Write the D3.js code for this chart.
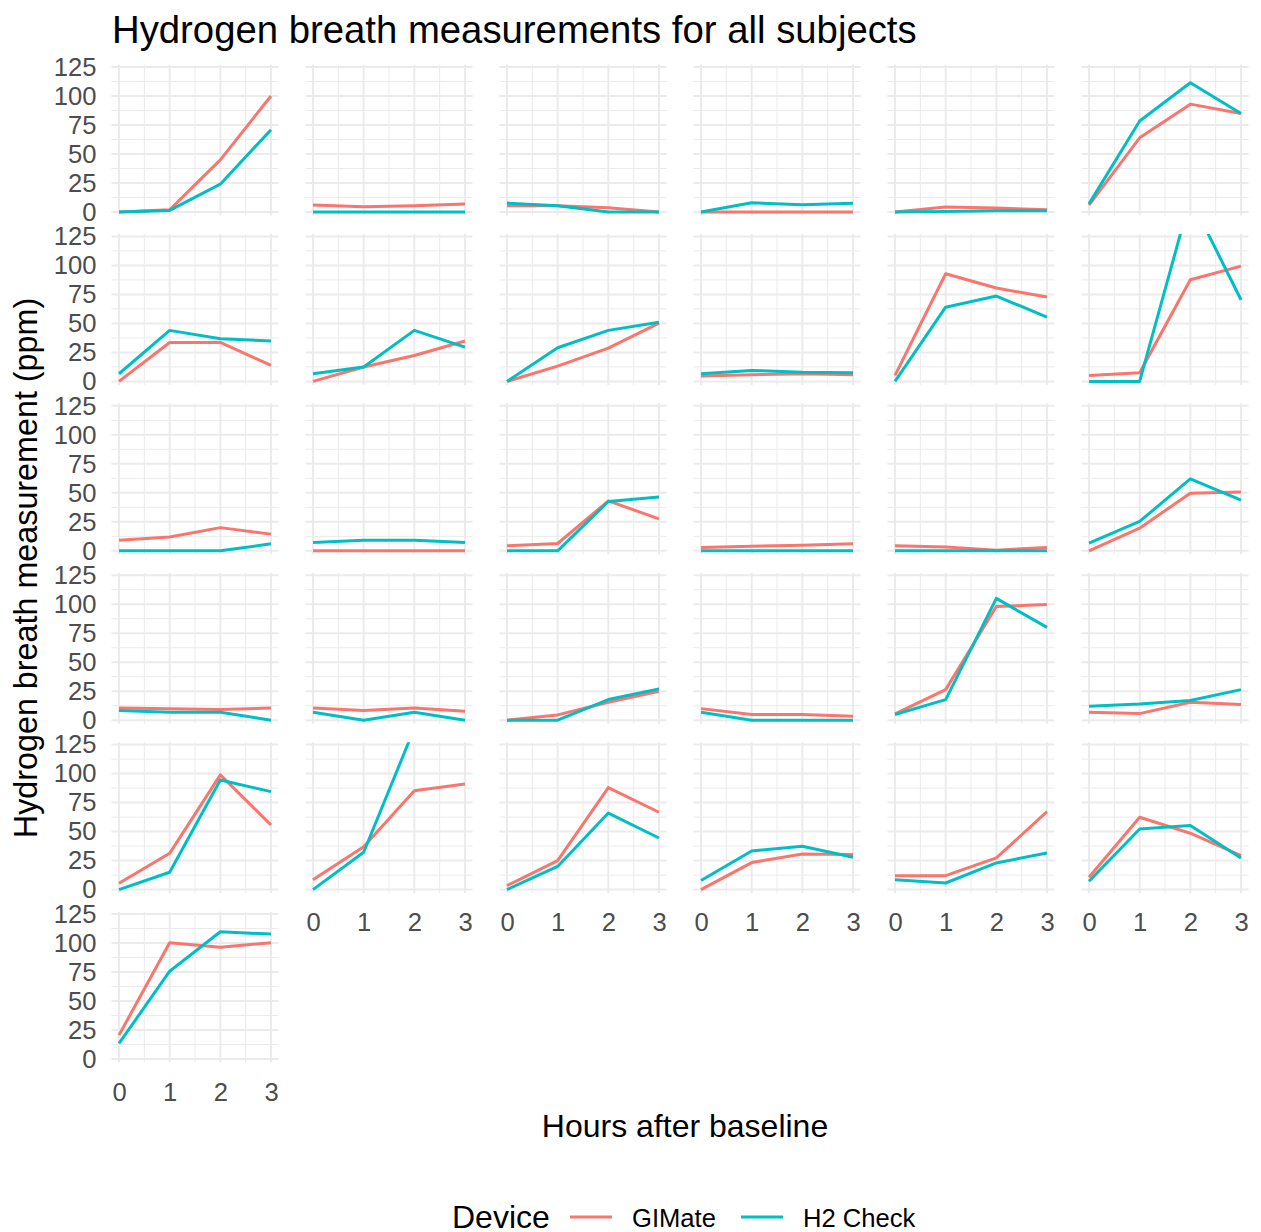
<!DOCTYPE html>
<html>
<head>
<meta charset="utf-8">
<script src="https://cdn.jsdelivr.net/npm/d3@7"></script>
<style>
  body { margin: 0; background: #fff; }
  text { font-family: "Liberation Sans", Arial, Helvetica, sans-serif; }
</style>
</head>
<body>
<svg id="chart" width="1261" height="1232"></svg>
<script>
const svg = d3.select('#chart')

// data: one array per subject, values at hours 0..3
const hours = [0, 1, 2, 3]
const devices = ['GIMate', 'H2 Check']
const gimate = [
  [0, 2, 45, 100], [6, 4.5, 5.5, 7], [5.5, 5.5, 3.7, 0], [0, 0, 0, 0], [0, 4.4, 3.5, 2], [6, 64, 93, 85],
  [0, 33.6, 33.6, 13.8], [0, 12.4, 22.4, 34.8], [0, 13.2, 28.7, 50.3], [4.6, 5.7, 6.6, 5.7], [5.2, 92.8, 80.5, 72.7], [5, 7.5, 87.6, 99.4],
  [9.2, 12, 20, 14.4], [0, 0, 0, 0], [4.3, 6.3, 43, 27.6], [2.9, 4, 4.9, 6], [4.3, 3.2, 0.6, 2.9], [0, 19.5, 49.7, 50.6],
  [10.6, 9.8, 9.2, 10.6], [10.6, 8.3, 10.6, 7.8], [0, 4.6, 15.5, 25], [10, 4.9, 4.9, 3.4], [5.5, 26.4, 98, 99.7], [6.9, 5.7, 15.5, 13.5],
  [5.5, 31.3, 98.9, 55.7], [8.6, 37, 85.3, 91], [3.4, 25, 88, 66.7], [0, 23.3, 30.7, 30.2], [12, 12, 27.3, 67.2], [10.6, 62.4, 48.6, 29.3],
  [20.6, 100.3, 96.3, 100.3]
]
const h2check = [
  [0, 1.4, 24, 71], [0, 0, 0, 0], [7.7, 5.5, 0, 0], [0, 8, 6.2, 7.5], [0, 0.5, 1, 1], [7, 78.5, 111.5, 85],
  [6.6, 44, 36.8, 34.8], [6.6, 12.4, 44, 29.6], [0, 29, 44, 51], [6.6, 9.5, 8, 7.5], [0, 64, 73.6, 55.5], [0, 0, 158, 70.4],
  [0, 0, 0, 6], [7.2, 9.2, 9.2, 7.2], [0, 0, 42.5, 46.3], [0, 0, 0, 0], [0, 0, 0, 0], [6.6, 25.3, 62, 43.7],
  [8.3, 6.9, 6.9, 0], [6.9, 0, 6.9, 0], [0, 0, 17.8, 27], [6.9, 0, 0, 0], [4.9, 17.8, 105, 80], [12, 14, 17, 26.4],
  [0, 15, 94.5, 84.5], [0, 32.2, 139, null], [0, 20, 66, 44.5], [7.8, 33.3, 37.4, 27.9], [8.6, 5.7, 23, 31.6], [7.2, 52.3, 55.2, 27.3],
  [13.4, 75.7, 109.7, 107.7]
]
const yTicks = [0, 25, 50, 75, 100, 125]
const yMinor = [12.5, 37.5, 62.5, 87.5, 112.5]
const xTicks = [0, 1, 2, 3]
const xMinor = [0.5, 1.5, 2.5]

const colors = ['#F8766D', '#00BFC4']
const gridColor = '#ebebeb'
const tickColor = '#4d4d4d'

// facet layout
const nCol = 6
const panelLeft = 111.4
const panelTop = 64.7
const colStep = 194
const rowStep = 169.4
const pw = 167.2
const ph = 150.8

const x = d3.scaleLinear().domain([-0.15, 3.15]).range([0, pw])
const y = d3.scaleLinear().domain([-3, 127]).range([ph, 0])

const line = d3.line()
  .defined(d => d[1] != null)
  .x(d => x(d[0]))
  .y(d => y(d[1]))

const nPanels = gimate.length
const defs = svg.append('defs')
defs.append('clipPath').attr('id', 'clip')
  .append('rect').attr('width', pw).attr('height', ph)

for (let i = 0; i < nPanels; i++) {
  const col = i % nCol
  const row = Math.floor(i / nCol)
  const g = svg.append('g')
    .attr('transform', `translate(${panelLeft + col * colStep}, ${panelTop + row * rowStep})`)

  // grid
  g.selectAll('line.hmin').data(yMinor).enter().append('line')
    .attr('x1', 0).attr('x2', pw).attr('y1', d => y(d)).attr('y2', d => y(d))
    .attr('stroke', gridColor).attr('stroke-width', 1)
  g.selectAll('line.vmin').data(xMinor).enter().append('line')
    .attr('y1', 0).attr('y2', ph).attr('x1', d => x(d)).attr('x2', d => x(d))
    .attr('stroke', gridColor).attr('stroke-width', 1)
  g.selectAll('line.hmaj').data(yTicks).enter().append('line')
    .attr('x1', 0).attr('x2', pw).attr('y1', d => y(d)).attr('y2', d => y(d))
    .attr('stroke', gridColor).attr('stroke-width', 2)
  g.selectAll('line.vmaj').data(xTicks).enter().append('line')
    .attr('y1', 0).attr('y2', ph).attr('x1', d => x(d)).attr('x2', d => x(d))
    .attr('stroke', gridColor).attr('stroke-width', 2)

  // lines
  const series = [gimate[i], h2check[i]]
  const lines = g.append('g').attr('clip-path', 'url(#clip)')
  series.forEach((vals, k) => {
    lines.append('path')
      .datum(hours.map((h, j) => [h, vals[j]]))
      .attr('d', line)
      .attr('fill', 'none')
      .attr('stroke', colors[k])
      .attr('stroke-width', 3)
      .attr('stroke-linejoin', 'round')
  })

  // y axis on first column
  if (col === 0) {
    const ya = g.append('g')
      .call(d3.axisLeft(y).tickValues(yTicks).tickSize(0).tickPadding(15))
    ya.select('.domain').remove()
    ya.selectAll('text').attr('fill', tickColor).style('font-size', '25.6px')
      .style('font-family', '"Liberation Sans", Arial, sans-serif')
  }
  // x axis where no panel sits below
  if (i + nCol >= nPanels) {
    const xa = g.append('g')
      .attr('transform', `translate(0, ${ph})`)
      .call(d3.axisBottom(x).tickValues(xTicks).tickFormat(d3.format('d')).tickSize(0).tickPadding(20))
    xa.select('.domain').remove()
    xa.selectAll('text').attr('fill', tickColor).style('font-size', '25.6px')
      .style('font-family', '"Liberation Sans", Arial, sans-serif')
  }
}

// titles
svg.append('text')
  .attr('x', 112).attr('y', 43)
  .style('font-size', '38.3px')
  .text('Hydrogen breath measurements for all subjects')

svg.append('text')
  .attr('transform', 'translate(37, 568) rotate(-90)')
  .attr('text-anchor', 'middle')
  .style('font-size', '32.3px')
  .text('Hydrogen breath measurement (ppm)')

svg.append('text')
  .attr('x', 685).attr('y', 1137)
  .attr('text-anchor', 'middle')
  .style('font-size', '32px')
  .text('Hours after baseline')

// legend
const legend = svg.append('g')
legend.append('text').attr('x', 452).attr('y', 1228).style('font-size', '32px').text('Device')
const legendX = [570, 741]
devices.forEach((name, k) => {
  legend.append('line')
    .attr('x1', legendX[k]).attr('x2', legendX[k] + 42)
    .attr('y1', 1217).attr('y2', 1217)
    .attr('stroke', colors[k]).attr('stroke-width', 3)
  legend.append('text')
    .attr('x', legendX[k] + 62).attr('y', 1227)
    .style('font-size', '25.6px')
    .text(name)
})
</script>
</body>
</html>
